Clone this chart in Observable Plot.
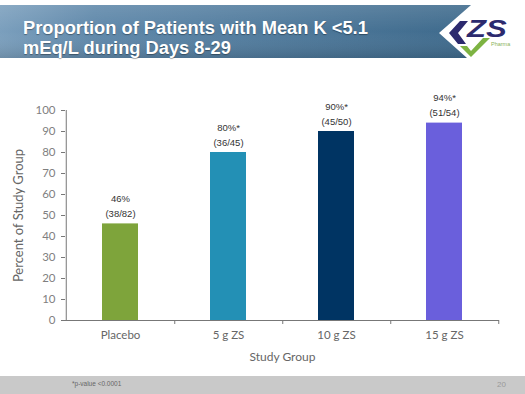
<!DOCTYPE html>
<html><head><meta charset="utf-8">
<script src="https://cdn.jsdelivr.net/npm/d3@7"></script>
<script src="https://cdn.jsdelivr.net/npm/@observablehq/plot@0.6"></script>
<style>
html,body{margin:0;padding:0}
body{width:525px;height:394px;position:relative;overflow:hidden;background:#fff;font-family:"Liberation Sans",Arial,sans-serif}
#banner{position:absolute;left:0;top:0}
#title{position:absolute;left:23px;top:18px;color:#fff;font-weight:bold;font-size:18.3px;line-height:19.5px;text-shadow:0 1px 1px rgba(0,0,0,0.35);white-space:nowrap}
#chart{position:absolute;left:0;top:66px}
#footer{position:absolute;left:0;top:376px;width:525px;height:18px;background:#c9c9c9}
#note{position:absolute;left:72px;top:4px;font-size:6.5px;color:#666}
#page{position:absolute;left:497px;top:4px;font-size:8px;color:#999}
</style></head>
<body>
<svg id="banner" width="525" height="62">
  <defs>
    <linearGradient id="bg" x1="0" y1="0" x2="1" y2="0">
      <stop offset="0" stop-color="#7b9fbd"/>
      <stop offset="0.2" stop-color="#5f88aa"/>
      <stop offset="1" stop-color="#3e6a8c"/>
    </linearGradient>
    <linearGradient id="sh" x1="0" y1="0" x2="0" y2="1">
      <stop offset="0" stop-color="#fff" stop-opacity="0.12"/>
      <stop offset="0.5" stop-color="#fff" stop-opacity="0"/>
      <stop offset="1" stop-color="#000" stop-opacity="0.12"/>
    </linearGradient>
  </defs>
  <polygon points="0,5 471,5 439,33 467,58 0,58" fill="url(#bg)"/>
  <polygon points="0,5 471,5 439,33 467,58 0,58" fill="url(#sh)"/>
  <polygon points="460,21 468,21 458,33 466,44 458,44 449,33" fill="#2c2a6e"/>
  <polygon points="460,46 467,46 471,51 483,38 490,38 471,57" fill="#7db342"/>
  <text x="0" y="0" transform="translate(467,37) scale(1.35,1)" font-family="Liberation Sans, Arial" font-weight="bold" font-style="italic" font-size="23" fill="#2c2a6e">ZS</text>
  <text x="491" y="46" font-family="Liberation Sans, Arial" font-size="5.5" fill="#8ab35a">Pharma</text>
</svg>
<div id="title">Proportion of Patients with Mean K &lt;5.1<br>mEq/L during Days 8-29</div>
<div id="chart"></div>
<div id="footer"><span id="note">*p-value &lt;0.0001</span><span id="page">20</span></div>
<script>
const groups = ["Placebo", "5 g ZS", "10 g ZS", "15 g ZS"];
const percents = [46, 80, 90, 94];
const pctLabels = ["46%", "80%*", "90%*", "94%*"];
const countLabels = ["(38/82)", "(36/45)", "(45/50)", "(51/54)"];
const barColors = ["#7ea43b", "#2390b5", "#003463", "#6a5fdc"];
const yTicks = [0, 10, 20, 30, 40, 50, 60, 70, 80, 90, 100];
const yTitle = "Percent of Study Group";
const xTitle = "Study Group";

const data = groups.map((g, i) => ({group: g, value: percents[i], pct: pctLabels[i], count: countLabels[i]}));

const W = 525, ML = 65, MR = 26;
const step = (W - ML - MR) / groups.length;
const sans = "Lato, 'Open Sans', sans-serif";

const chart = Plot.plot({
  width: W, height: 310,
  marginTop: 44, marginBottom: 56, marginLeft: ML, marginRight: MR,
  style: {background: "transparent", fontFamily: sans},
  x: {domain: groups, paddingInner: 0.67, paddingOuter: 0.335, axis: null},
  y: {domain: [0, 100], axis: null},
  color: {domain: groups, range: barColors},
  marks: [
    Plot.barY(data, {x: "group", y: "value", fill: "group"}),
    Plot.axisY({ticks: yTicks, tickSize: 4, tickPadding: 6, fontSize: 11.5, color: "#7f7f7f", stroke: "#777", label: null}),
    Plot.ruleX([groups[0]], {dx: -step / 2, stroke: "#777"}),
    Plot.ruleY([0], {stroke: "#777", insetLeft: -3}),
    Plot.axisX({tickSize: 4, text: null, dx: step / 2, stroke: "#777", label: null}),
    Plot.text(groups, {x: d => d, frameAnchor: "bottom", dy: 15, fontSize: 11.5, fill: "#666", lineAnchor: "middle"}),
    Plot.text(data, {x: "group", y: "value", text: "pct", dy: -25, fontSize: 9.5, fill: "#333", fontFamily: "Liberation Sans, Arial"}),
    Plot.text(data, {x: "group", y: "value", text: "count", dy: -10, fontSize: 9.5, fill: "#333", fontFamily: "Liberation Sans, Arial"}),
    Plot.text([yTitle], {frameAnchor: "left", rotate: -90, dx: -47, textAnchor: "middle", fontSize: 13, fill: "#666"}),
    Plot.text([xTitle], {frameAnchor: "bottom", dy: 40, fontSize: 12, fill: "#666"})
  ]
});
document.getElementById("chart").appendChild(chart);
</script>
</body></html>
